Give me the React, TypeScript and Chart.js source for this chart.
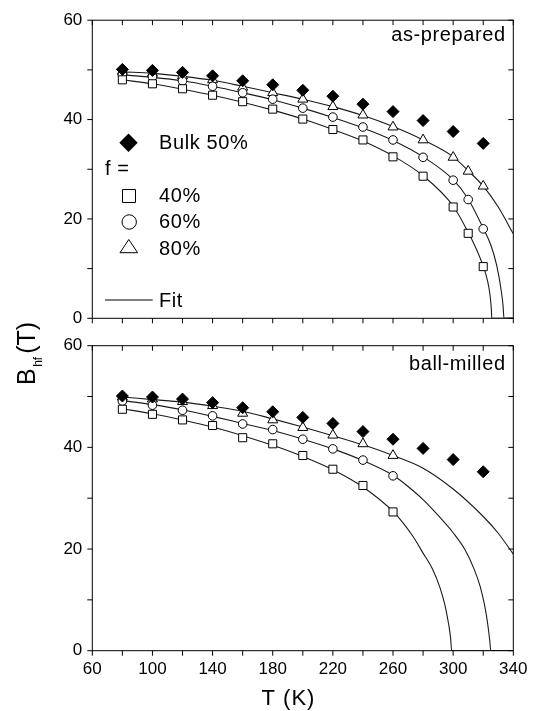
import React, { useEffect, useRef } from 'react';
import { Chart, registerables } from 'chart.js';

Chart.register(...registerables);

// ---------- axes ----------
const X_TICKS = [60, 80, 100, 120, 140, 160, 180, 200, 220, 240, 260, 280, 300, 320, 340];
const X_LABELS = [60, 100, 140, 180, 220, 260, 300, 340];
const Y_TICKS = [0, 10, 20, 30, 40, 50, 60];
const Y_LABELS = [0, 20, 40, 60];

// ---------- bulk reference (both panels) ----------
const T_BULK = [80, 100, 120, 140, 160, 180, 200, 220, 240, 260, 280, 300, 320];
const BULK = [50.1, 49.9, 49.5, 48.8, 47.8, 47.0, 45.9, 44.7, 43.1, 41.6, 39.8, 37.6, 35.2];

// ---------- as-prepared ----------
const T_AP = [80, 100, 120, 140, 160, 180, 200, 220, 240, 260, 280, 300, 310, 320];
const AP40 = [48.0, 47.2, 46.2, 44.9, 43.6, 42.1, 40.1, 38.0, 35.9, 32.5, 28.6, 22.4, 17.1, 10.4];
const AP60 = [49.0, 48.6, 47.8, 46.7, 45.4, 44.1, 42.3, 40.5, 38.5, 35.9, 32.4, 27.8, 23.9, 18.0];
const AP80 = [49.7, 49.3, 48.8, 48.0, 46.5, 45.4, 44.1, 42.6, 40.9, 38.5, 35.9, 32.4, 29.6, 26.6];

const FIT_T_AP40 = [80, 100, 120, 140, 160, 180, 200, 220, 240, 260, 280, 300, 310, 315, 320, 323, 324.6, 325.4, 325.7, 340];
const FIT_AP40 = [48.0, 47.2, 46.1, 44.9, 43.5, 41.9, 40.1, 38.0, 35.7, 32.7, 28.7, 22.6, 17.3, 14.2, 10.5, 7.4, 4.5, 1.8, 0, 0];
const FIT_T_AP60 = [80, 100, 120, 140, 160, 180, 200, 220, 240, 260, 280, 300, 310, 320, 325, 329, 332, 333.2, 333.8, 340];
const FIT_AP60 = [49.0, 48.5, 47.8, 46.7, 45.4, 44.0, 42.3, 40.4, 38.3, 35.8, 32.5, 27.9, 24.0, 18.1, 14.8, 10.6, 5.5, 2.5, 0, 0];
const FIT_T_AP80 = [80, 100, 120, 140, 160, 180, 200, 220, 240, 260, 280, 300, 310, 320, 330, 340];
const FIT_AP80 = [49.6, 49.3, 48.7, 47.9, 46.7, 45.4, 44.1, 42.6, 40.8, 38.6, 35.9, 32.5, 29.7, 26.6, 22.4, 17.0];

// ---------- ball-milled ----------
const T_BM = [80, 100, 120, 140, 160, 180, 200, 220, 240, 260];
const BM40 = [47.5, 46.5, 45.4, 44.3, 41.9, 40.7, 38.4, 35.7, 32.5, 27.3];
const BM60 = [49.1, 48.3, 47.3, 46.2, 44.6, 43.5, 41.6, 39.7, 37.5, 34.4];
const BM80 = [49.9, 49.5, 49.0, 48.2, 46.7, 45.4, 43.9, 42.4, 40.7, 38.4];

const FIT_T_BM40 = [80, 100, 120, 140, 160, 180, 200, 220, 240, 260, 266, 273, 280, 286, 291, 294.5, 297, 298.3, 299, 340];
const FIT_BM40 = [47.6, 46.6, 45.4, 44.0, 42.3, 40.4, 38.2, 35.6, 32.2, 27.4, 25.4, 22.6, 19.2, 16.2, 12.6, 9.0, 5.2, 2.5, 0, 0];
const FIT_T_BM60 = [80, 100, 120, 140, 160, 180, 200, 220, 240, 260, 270, 280, 290, 300, 308, 314, 318, 321, 323, 324.4, 325, 340];
const FIT_BM60 = [49.2, 48.4, 47.4, 46.1, 44.7, 43.3, 41.6, 39.7, 37.4, 34.5, 32.3, 29.7, 26.6, 23.2, 19.8, 16.0, 12.6, 8.8, 5.2, 1.8, 0, 0];
const FIT_T_BM80 = [80, 100, 120, 140, 160, 180, 200, 220, 240, 260, 280, 300, 320, 330, 340];
const FIT_BM80 = [49.9, 49.4, 48.9, 48.1, 47.1, 45.6, 44.0, 42.3, 40.5, 38.4, 35.9, 31.8, 26.4, 23.1, 19.0];

const FONT = '"Liberation Sans", Arial, Helvetica, sans-serif';
const W = 538;
const H = 711;

function pts(xs: number[], ys: number[]) {
  return xs.map((x, i) => ({ x, y: ys[i] }));
}

function markerSet(xs: number[], ys: number[], style: string, radius: number, fill: string) {
  return {
    data: pts(xs, ys),
    showLine: false,
    pointStyle: style,
    pointRadius: radius,
    pointHoverRadius: radius,
    pointBackgroundColor: fill,
    pointBorderColor: '#000',
    pointBorderWidth: 1,
    order: 0,
  };
}

function fitSet(xs: number[], ys: number[]) {
  return {
    data: pts(xs, ys),
    showLine: true,
    borderColor: '#1a1a1a',
    borderWidth: 1.1,
    pointRadius: 0,
    pointHoverRadius: 0,
    cubicInterpolationMode: 'monotone',
    fill: false,
    order: 1,
  };
}

function spaced(ctx: any, px: number) {
  ctx.letterSpacing = px + 'px';
}

function drawLegend(ctx: any) {
  ctx.save();
  ctx.fillStyle = '#000';
  ctx.strokeStyle = '#000';
  ctx.lineWidth = 1;
  // diamond
  ctx.beginPath();
  ctx.moveTo(128.5, 133.5);
  ctx.lineTo(137.7, 142.7);
  ctx.lineTo(128.5, 151.9);
  ctx.lineTo(119.3, 142.7);
  ctx.closePath();
  ctx.fill();
  // square
  ctx.fillStyle = '#fff';
  ctx.beginPath();
  ctx.rect(122.5, 189.5, 13, 13);
  ctx.fill();
  ctx.stroke();
  // circle
  ctx.beginPath();
  ctx.arc(129.2, 222, 7.2, 0, Math.PI * 2);
  ctx.fill();
  ctx.stroke();
  // triangle
  ctx.beginPath();
  ctx.moveTo(128.8, 239.5);
  ctx.lineTo(137.6, 252.7);
  ctx.lineTo(120.0, 252.7);
  ctx.closePath();
  ctx.fill();
  ctx.stroke();
  // fit line
  ctx.strokeStyle = '#555';
  ctx.lineWidth = 1.5;
  ctx.beginPath();
  ctx.moveTo(105, 300);
  ctx.lineTo(152.7, 300);
  ctx.stroke();
  // texts
  ctx.fillStyle = '#000';
  ctx.font = `20px ${FONT}`;
  ctx.textAlign = 'left';
  ctx.textBaseline = 'alphabetic';
  spaced(ctx, 0.6);
  ctx.fillText('Bulk 50%', 159, 148.5);
  ctx.fillText('f =', 105, 175);
  ctx.fillText('40%', 159, 201.7);
  ctx.fillText('60%', 159, 228.3);
  ctx.fillText('80%', 159, 255);
  ctx.fillText('Fit', 159, 306.7);
  spaced(ctx, 0);
  ctx.restore();
}

function drawYTitle(ctx: any) {
  ctx.save();
  ctx.fillStyle = '#000';
  ctx.translate(35, 385);
  ctx.rotate(-Math.PI / 2);
  ctx.textAlign = 'left';
  ctx.textBaseline = 'alphabetic';
  ctx.font = `25px ${FONT}`;
  ctx.fillText('B', 0, 0);
  const wB = ctx.measureText('B').width;
  ctx.font = `12px ${FONT}`;
  ctx.fillText('hf', wB + 1.5, 6.7);
  const wh = ctx.measureText('hf').width;
  ctx.font = `25px ${FONT}`;
  ctx.fillText('(T)', wB + 1.5 + wh + 3, 0);
  ctx.restore();
}

function drawXTitle(ctx: any) {
  ctx.save();
  ctx.fillStyle = '#000';
  ctx.font = `22px ${FONT}`;
  ctx.textAlign = 'center';
  ctx.textBaseline = 'alphabetic';
  spaced(ctx, 1);
  ctx.fillText('T (K)', 288.5, 705);
  spaced(ctx, 0);
  ctx.restore();
}

type Panel = {
  top: number;
  bottom: number;
  showX: boolean;
  label: string;
  labelBaseline: number;
  datasets: any[];
  extra: (ctx: any) => void;
};

const TOP: Panel = {
  top: 14.3,
  bottom: 318.3,
  showX: false,
  label: 'as-prepared',
  labelBaseline: 41,
  datasets: [
    markerSet(T_BULK, BULK, 'rectRot', 6, '#000'),
    markerSet(T_AP, AP40, 'rect', 5.7, '#fff'),
    markerSet(T_AP, AP60, 'circle', 4.3, '#fff'),
    markerSet(T_AP, AP80, 'triangle', 5.8, '#fff'),
    fitSet(FIT_T_AP40, FIT_AP40),
    fitSet(FIT_T_AP60, FIT_AP60),
    fitSet(FIT_T_AP80, FIT_AP80),
  ],
  extra: (ctx) => {
    drawLegend(ctx);
    drawYTitle(ctx);
  },
};

const BOTTOM: Panel = {
  top: 345.7,
  bottom: 650.7,
  showX: true,
  label: 'ball-milled',
  labelBaseline: 369.5,
  datasets: [
    markerSet(T_BULK, BULK, 'rectRot', 6, '#000'),
    markerSet(T_BM, BM40, 'rect', 5.7, '#fff'),
    markerSet(T_BM, BM60, 'circle', 4.3, '#fff'),
    markerSet(T_BM, BM80, 'triangle', 5.8, '#fff'),
    fitSet(FIT_T_BM40, FIT_BM40),
    fitSet(FIT_T_BM60, FIT_BM60),
    fitSet(FIT_T_BM80, FIT_BM80),
  ],
  extra: (ctx) => {
    drawXTitle(ctx);
  },
};

function makeConfig(panel: Panel): any {
  const framePlugin = {
    id: 'frameAndText',
    afterDraw(chart: any) {
      const { ctx, chartArea } = chart;
      const { left, right, top, bottom } = chartArea;
      const xs = chart.scales.x;
      const ys = chart.scales.y;
      ctx.save();
      ctx.strokeStyle = '#000';
      ctx.lineWidth = 1;
      ctx.strokeRect(left, top, right - left, bottom - top);
      const TL = 5;
      ctx.beginPath();
      X_TICKS.forEach((v) => {
        const px = xs.getPixelForValue(v);
        ctx.moveTo(px, bottom);
        ctx.lineTo(px, bottom + TL);
        ctx.moveTo(px, top);
        ctx.lineTo(px, top + TL);
      });
      Y_TICKS.forEach((v) => {
        const py = ys.getPixelForValue(v);
        ctx.moveTo(left - TL, py);
        ctx.lineTo(left, py);
        ctx.moveTo(right - TL, py);
        ctx.lineTo(right, py);
      });
      ctx.stroke();
      ctx.fillStyle = '#000';
      ctx.font = `20px ${FONT}`;
      ctx.textAlign = 'right';
      ctx.textBaseline = 'alphabetic';
      spaced(ctx, 0.6);
      ctx.fillText(panel.label, 505.6, panel.labelBaseline);
      spaced(ctx, 0);
      ctx.restore();
      panel.extra(ctx);
    },
  };

  return {
    type: 'scatter',
    data: { datasets: panel.datasets },
    options: {
      responsive: false,
      animation: false,
      devicePixelRatio: 1,
      events: [],
      layout: { padding: { left: 0, right: W - 513.3, top: panel.top, bottom: 0 } },
      plugins: {
        legend: { display: false },
        tooltip: { enabled: false },
      },
      scales: {
        x: {
          type: 'linear',
          position: 'bottom',
          min: 60,
          max: 340,
          afterBuildTicks: (s: any) => {
            s.ticks = X_TICKS.map((v) => ({ value: v }));
          },
          afterFit: (s: any) => {
            s.height = H - panel.bottom;
          },
          grid: { display: false, drawTicks: false, tickLength: 0 },
          border: { display: false },
          ticks: {
            display: panel.showX,
            autoSkip: false,
            maxRotation: 0,
            padding: 8,
            color: '#000',
            font: { family: FONT, size: 17 },
            callback: (v: any) => (X_LABELS.includes(Number(v)) ? String(v) : ''),
          },
        },
        y: {
          type: 'linear',
          position: 'left',
          min: 0,
          max: 60,
          afterBuildTicks: (s: any) => {
            s.ticks = Y_TICKS.map((v) => ({ value: v }));
          },
          afterFit: (s: any) => {
            s.width = 92.3;
          },
          grid: { display: false, drawTicks: false, tickLength: 0 },
          border: { display: false },
          ticks: {
            autoSkip: false,
            padding: 10,
            color: '#000',
            font: { family: FONT, size: 17 },
            callback: (v: any) => (Y_LABELS.includes(Number(v)) ? String(v) : ''),
          },
        },
      },
    },
    plugins: [framePlugin],
  };
}

export default function App() {
  const topRef = useRef<HTMLCanvasElement>(null);
  const botRef = useRef<HTMLCanvasElement>(null);

  useEffect(() => {
    const c1 = new Chart(topRef.current as HTMLCanvasElement, makeConfig(TOP));
    const c2 = new Chart(botRef.current as HTMLCanvasElement, makeConfig(BOTTOM));
    return () => {
      c1.destroy();
      c2.destroy();
    };
  }, []);

  return (
    <div style={{ position: 'fixed', left: 0, top: 0, width: W, height: H, background: '#fff' }}>
      <canvas ref={topRef} width={W} height={H} style={{ position: 'absolute', left: 0, top: 0 }} />
      <canvas ref={botRef} width={W} height={H} style={{ position: 'absolute', left: 0, top: 0 }} />
    </div>
  );
}
